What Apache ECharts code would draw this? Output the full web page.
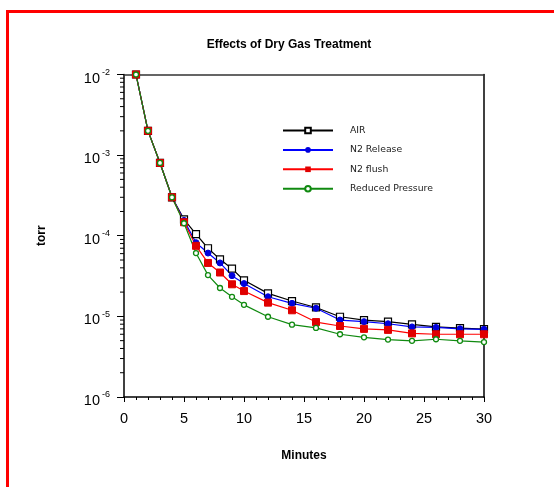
<!DOCTYPE html>
<html>
<head>
<meta charset="utf-8">
<script src="https://cdn.jsdelivr.net/npm/echarts@6/dist/echarts.min.js"></script>
<style>
html,body{margin:0;padding:0;background:#fff;}
#chart{width:554px;height:487px;}
</style>
</head>
<body>
<div id="chart"></div>
<script>
var minutes = [1,2,3,4,5,6,7,8,9,10,12,14,16,18,20,22,24,26,28,30];
var air = [1e-2, 2e-3, 8e-4, 3e-4, 1.6e-4, 1.05e-4, 7.0e-5, 5.1e-5, 3.9e-5, 2.8e-5, 1.93e-5, 1.55e-5, 1.29e-5, 9.9e-6, 9.0e-6, 8.6e-6, 7.95e-6, 7.4e-6, 7.15e-6, 6.95e-6];
var n2Release = [1e-2, 2e-3, 8e-4, 3e-4, 1.55e-4, 8.2e-5, 6.1e-5, 4.6e-5, 3.2e-5, 2.55e-5, 1.75e-5, 1.45e-5, 1.26e-5, 9.0e-6, 8.6e-6, 8.1e-6, 7.4e-6, 7.3e-6, 7.0e-6, 6.9e-6];
var n2Flush = [1e-2, 2e-3, 8e-4, 3e-4, 1.47e-4, 7.5e-5, 4.6e-5, 3.5e-5, 2.5e-5, 2.06e-5, 1.48e-5, 1.19e-5, 8.5e-6, 7.6e-6, 7.0e-6, 6.8e-6, 6.15e-6, 6.0e-6, 6.0e-6, 6.0e-6];
var reducedPressure = [1e-2, 2e-3, 8e-4, 3e-4, 1.43e-4, 6.1e-5, 3.25e-5, 2.25e-5, 1.75e-5, 1.39e-5, 9.9e-6, 7.9e-6, 7.2e-6, 6.0e-6, 5.5e-6, 5.15e-6, 4.97e-6, 5.2e-6, 4.97e-6, 4.8e-6];
var seriesNames = ['AIR', 'N2 Release', 'N2 flush', 'Reduced Pressure'];
var yExponents = [-6, -5, -4, -3, -2];
var yTickBase = '10';
var minorMultipliers = [2,3,4,5,6,7,8,9];
var xTicks = [0, 5, 10, 15, 20, 25, 30];

function pairs(vals){ return minutes.map(function(m,i){ return [m, vals[i]]; }); }
function expOf(v){ return Math.round(Math.log(v) / Math.LN10); }

var minorVals = [];
for (var d = 0; d < yExponents.length - 1; d++) {
  minorMultipliers.forEach(function(k){ minorVals.push([0, k * Math.pow(10, yExponents[d])]); });
}

var font = 'Arial, "Liberation Sans", sans-serif';
var chart = echarts.init(document.getElementById('chart'), null, {renderer: 'canvas'});
var logBaseAxis = {type: 'log', logBase: 10, min: 1e-6, max: 1e-2};
var option = {
  backgroundColor: '#fff',
  animation: false,
  title: {
    text: 'Effects of Dry Gas Treatment',
    left: 284, top: 34, textAlign: 'center',
    textStyle: {fontFamily: font, fontSize: 12, fontWeight: 'bold', color: '#000'}
  },
  grid: {left: 124, right: 70, top: 74.5, bottom: 90, containLabel: false},
  legend: {
    data: seriesNames,
    orient: 'vertical',
    left: 282, top: 125.5,
    padding: 0,
    itemWidth: 50, itemHeight: 7, itemGap: 9.4,
    textStyle: {fontFamily: '"DejaVu Sans", Verdana, sans-serif', fontSize: 9.3, lineHeight: 10, color: '#222', padding: [0,0,0,12]}
  },
  xAxis: [{
    type: 'value', min: 0, max: 30, interval: 5,
    name: 'Minutes', nameLocation: 'middle', nameGap: 53,
    nameTextStyle: {fontFamily: font, fontSize: 12, fontWeight: 'bold', color: '#000'},
    axisLine: {show: true, lineStyle: {color: '#000', width: 1.5}},
    axisTick: {show: true, length: 5, lineStyle: {color: '#000', width: 1}},
    minorTick: {show: true, splitNumber: 5, length: 3, lineStyle: {color: '#000', width: 1}},
    splitLine: {show: false},
    axisLabel: {fontFamily: font, fontSize: 14.5, color: '#000', margin: 14,
      formatter: function(v){ return xTicks.indexOf(v) >= 0 ? String(v) : ''; }}
  }, {
    type: 'value', min: 0, max: 30, position: 'top',
    axisLine: {show: true, onZero: false, lineStyle: {color: '#333', width: 1.5}},
    axisTick: {show: false}, axisLabel: {show: false}, splitLine: {show: false}
  }],
  yAxis: [Object.assign({}, logBaseAxis, {
    name: 'torr', nameLocation: 'middle', nameGap: 76, nameRotate: 90,
    nameTextStyle: {fontFamily: font, fontSize: 12, fontWeight: 'bold', color: '#000'},
    axisLine: {show: true, lineStyle: {color: '#000', width: 1.5}},
    axisTick: {show: true, length: 7, lineStyle: {color: '#000', width: 1}},
    splitLine: {show: false},
    axisLabel: {
      margin: 24, fontFamily: font, fontSize: 14.5, color: '#000',
      verticalAlign: 'top', lineHeight: 8,
      formatter: function(v){ return yExponents.indexOf(expOf(v)) >= 0 ? yTickBase : ''; }
    }
  }), Object.assign({}, logBaseAxis, {
    position: 'right',
    axisLine: {show: true, onZero: false, lineStyle: {color: '#000', width: 1.5}},
    axisTick: {show: false}, axisLabel: {show: false}, splitLine: {show: false}
  }), Object.assign({}, logBaseAxis, {
    position: 'left',
    axisLine: {show: false}, axisTick: {show: false}, splitLine: {show: false},
    axisLabel: {
      margin: 14, fontFamily: font, fontSize: 9, color: '#000',
      verticalAlign: 'bottom', lineHeight: 4,
      formatter: function(v){ var e = expOf(v); return yExponents.indexOf(e) >= 0 ? String(e) : ''; }
    }
  })],
  series: [
    {
      type: 'custom', name: 'minorY', silent: true, clip: false,
      data: minorVals,
      renderItem: function(params, api){
        var p = api.coord([api.value(0), api.value(1)]);
        return {type: 'line', shape: {x1: p[0] - 4, y1: p[1], x2: p[0], y2: p[1]},
          style: {stroke: '#000', lineWidth: 1}};
      }
    },
    {
      name: 'AIR', type: 'line', data: pairs(air),
      symbol: 'rect', symbolSize: 7, showSymbol: true,
      lineStyle: {color: '#000', width: 1.2},
      itemStyle: {color: '#fff', borderColor: '#000', borderWidth: 1.2},
      color: '#000'
    },
    {
      name: 'N2 Release', type: 'line', data: pairs(n2Release),
      symbol: 'circle', symbolSize: 6,
      lineStyle: {color: '#0000ff', width: 1.2},
      itemStyle: {color: '#0000dd', borderColor: '#0000dd'},
      color: '#0000ff'
    },
    {
      name: 'N2 flush', type: 'line', data: pairs(n2Flush),
      symbol: 'rect', symbolSize: 7,
      lineStyle: {color: '#ff0000', width: 1.2},
      itemStyle: {color: '#e00000', borderColor: '#e00000'},
      color: '#ff0000'
    },
    {
      name: 'Reduced Pressure', type: 'line', data: pairs(reducedPressure),
      symbol: 'circle', symbolSize: 5,
      lineStyle: {color: '#108a10', width: 1.2},
      itemStyle: {color: '#fff', borderColor: '#108a10', borderWidth: 1.3},
      color: '#108a10'
    }
  ],
  graphic: [
    {type: 'line', shape: {x1: 7, y1: 11.5, x2: 554, y2: 11.5}, style: {stroke: '#ff0000', lineWidth: 3}, z: 100},
    {type: 'line', shape: {x1: 7.5, y1: 10, x2: 7.5, y2: 487}, style: {stroke: '#ff0000', lineWidth: 3}, z: 100}
  ]
};
chart.setOption(option);
</script>
</body>
</html>
